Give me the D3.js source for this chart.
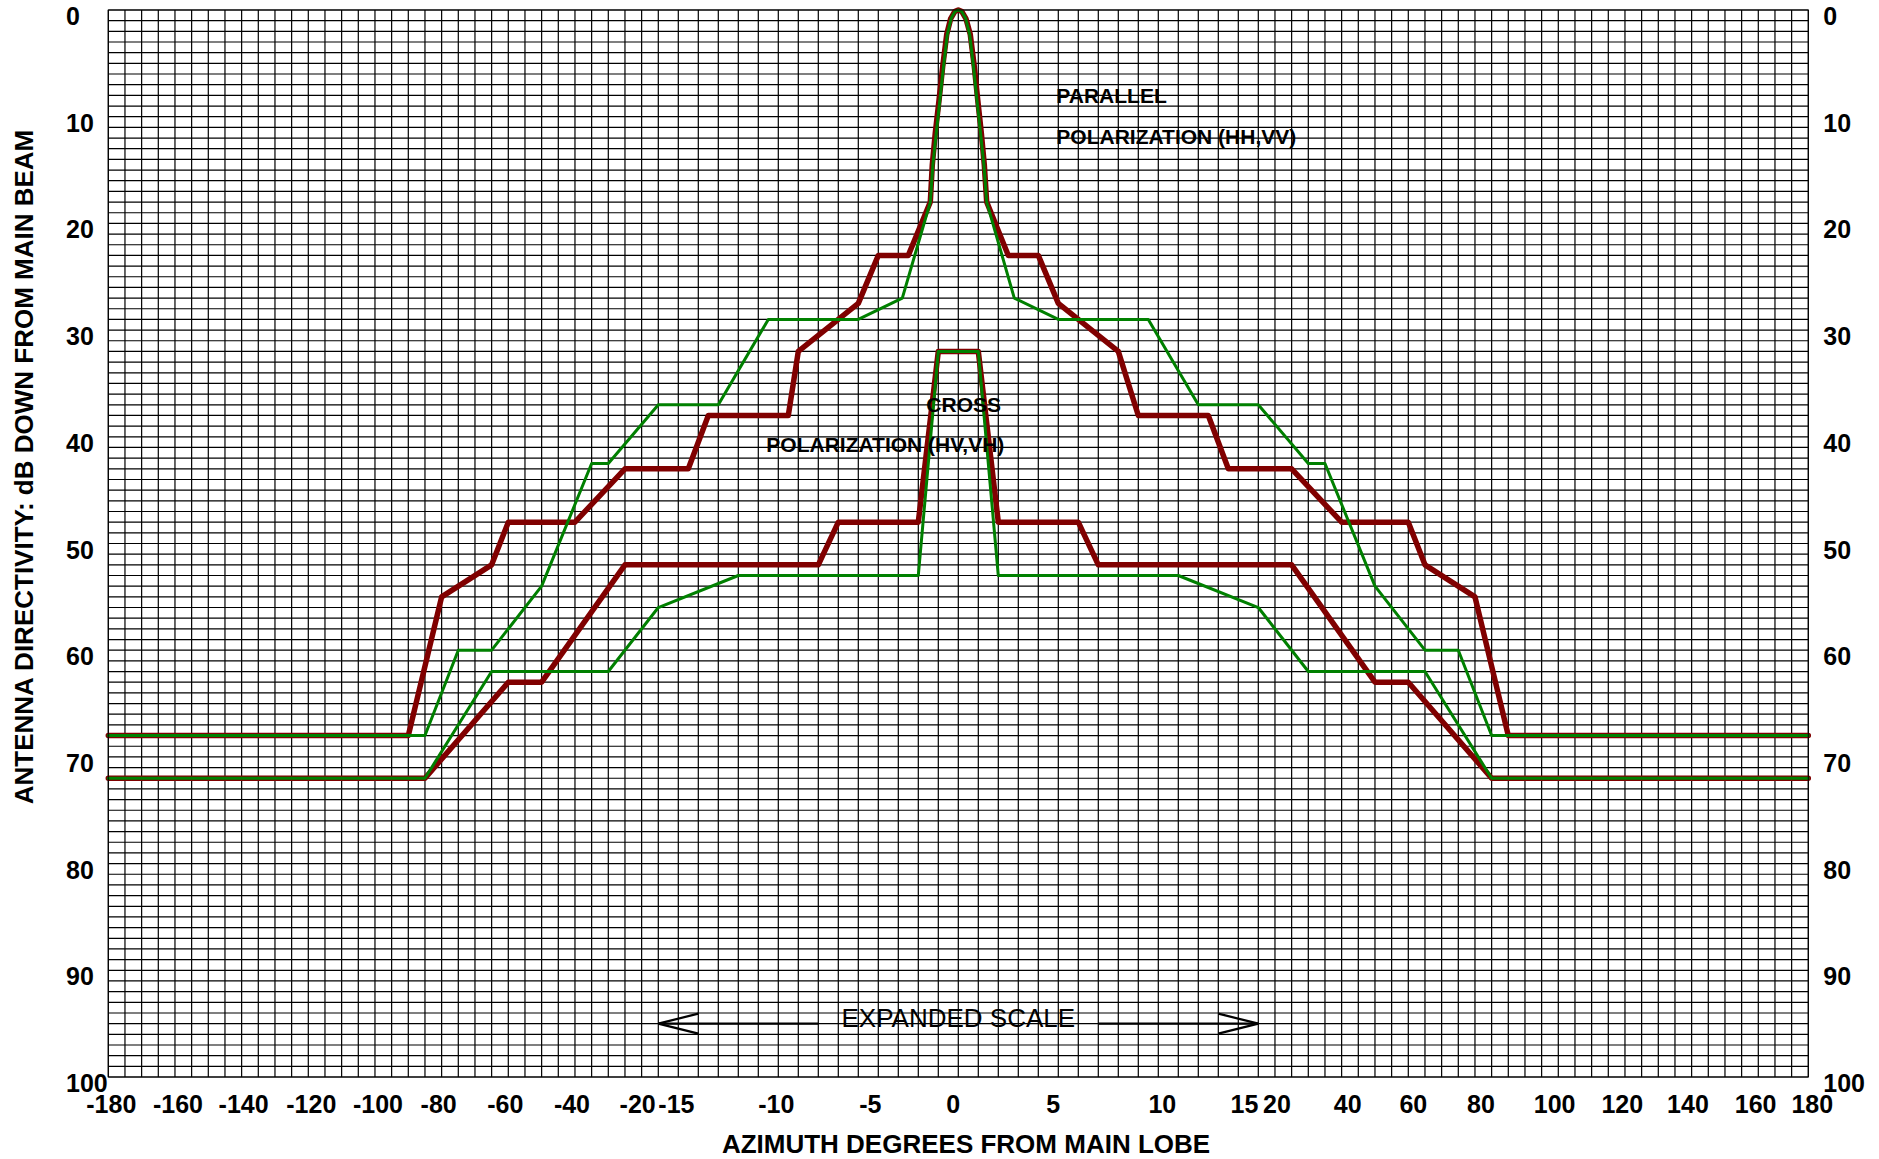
<!DOCTYPE html>
<html>
<head>
<meta charset="utf-8">
<script src="https://cdn.jsdelivr.net/npm/d3@7"></script>
<style>
  body { margin: 0; background: #fff; }
  text { font-family: "Liberation Sans", Arial, sans-serif; fill: #000; }
  .tick { font-size: 25px; font-weight: bold; }
  .title { font-size: 26px; font-weight: bold; }
  .note { font-size: 21px; font-weight: bold; }
  .expand { font-size: 26px; }
  .grid line { stroke: #000; stroke-width: 1.2; }
  .curve { fill: none; stroke-linejoin: round; stroke-linecap: round; }
  .red { stroke: #800000; stroke-width: 5.5; }
  .green { stroke: #008000; stroke-width: 3; }
</style>
</head>
<body>
<div id="chart"></div>
<script>
var xTicks = [-180, -160, -140, -120, -100, -80, -60, -40, -20, -15, -10, -5, 0, 5, 10, 15, 20, 40, 60, 80, 100, 120, 140, 160, 180];
var yTicks = [0, 10, 20, 30, 40, 50, 60, 70, 80, 90, 100];

// [azimuth deg, dB down]
var parallelRed = [[-180, 68], [-90, 68], [-80, 55], [-65, 52], [-60, 48], [-40, 48], [-25, 43], [-13.5, 43], [-12.5, 38],
  [-8.5, 38], [-8, 32], [-5, 27.5], [-4, 23], [-2.5, 23], [-1.4, 18], [-1.3, 14.5], [-1.15, 11.5], [-0.96, 8.4],
  [-0.78, 5.3], [-0.58, 2.3], [-0.38, 0.8], [-0.18, 0.15], [0, 0], [0.18, 0.15], [0.38, 0.8], [0.6, 2.3], [0.8, 5.3],
  [0.97, 8.4], [1.15, 11.5], [1.3, 14.5], [1.42, 18], [2.5, 23], [4, 23], [5, 27.5], [8, 32], [9, 38], [12.5, 38],
  [13.5, 43], [25, 43], [40, 48], [60, 48], [65, 52], [80, 55], [90, 68], [180, 68]];

var parallelGreen = [[-180, 68], [-85, 68], [-75, 60], [-65, 60], [-50, 54], [-35, 42.5], [-30, 42.5], [-15, 37], [-12, 37],
  [-9.5, 29], [-5, 29], [-2.8, 27], [-1.4, 18], [-1.27, 14.5], [-1.1, 11.5], [-0.92, 8.4], [-0.74, 5.3], [-0.55, 2.3],
  [-0.36, 0.8], [-0.17, 0.15], [0, 0], [0.17, 0.15], [0.37, 0.8], [0.57, 2.3], [0.76, 5.3], [0.93, 8.4], [1.11, 11.5],
  [1.28, 14.5], [1.42, 18], [2.8, 27], [5, 29], [9.5, 29], [12, 37], [15, 37], [30, 42.5], [35, 42.5], [50, 54],
  [65, 60], [75, 60], [85, 68], [180, 68]];

var crossRed = [[-180, 72], [-85, 72], [-60, 63], [-50, 63], [-25, 52], [-7, 52], [-6, 48], [-2, 48], [-1, 32], [1, 32],
  [2, 48], [6, 48], [7, 52], [25, 52], [50, 63], [60, 63], [85, 72], [180, 72]];

var crossGreen = [[-180, 72], [-85, 72], [-65, 62], [-30, 62], [-15, 56], [-11, 53], [-2, 53], [-1, 32], [1, 32], [2, 53],
  [11, 53], [15, 56], [30, 62], [65, 62], [85, 72], [180, 72]];

// [text, azimuth, dB, class]
var notes = [["PARALLEL", 4.9, 8.7, "note"], ["POLARIZATION (HH,VV)", 4.9, 12.55, "note"],
  ["CROSS", -1.6, 37.7, "note"], ["POLARIZATION (HV,VH)", -9.6, 41.4, "note"]];

var margin = {top: 10, right: 70.7, bottom: 82, left: 108.3},
    W = 1879, H = 1159,
    width = W - margin.left - margin.right,
    height = H - margin.top - margin.bottom;

// 5 deg per column outside, 1 deg per (1.2 wide) column in the expanded middle
var x = d3.scaleLinear()
    .domain([-180, -15, 15, 180])
    .range([0, width * 33 / 102, width * 69 / 102, width]);

var y = d3.scaleLinear().domain([0, 100]).range([0, height]);

var svg = d3.select("#chart").append("svg")
    .attr("width", W)
    .attr("height", H);

svg.append("rect").attr("width", W).attr("height", H).attr("fill", "#fff");

var g = svg.append("g")
    .attr("transform", "translate(" + margin.left + "," + margin.top + ")");

var gridX = d3.range(-180, -15, 5).concat(d3.range(-15, 15, 1), d3.range(15, 180.1, 5));
var gridY = d3.range(0, 100.1, 1);

var grid = g.append("g").attr("class", "grid");
grid.selectAll(".gx").data(gridX).enter().append("line")
    .attr("x1", function(d) { return x(d); })
    .attr("x2", function(d) { return x(d); })
    .attr("y1", 0).attr("y2", height);
grid.selectAll(".gy").data(gridY).enter().append("line")
    .attr("x1", 0).attr("x2", width)
    .attr("y1", function(d) { return y(d); })
    .attr("y2", function(d) { return y(d); });

// hand placed label nudges, as on the original sheet
var nudge = {"-180": 3, "-160": 3, "-140": 2, "-120": 3, "-100": 3, "-80": -3, "-60": -3, "-40": -3, "-20": -4,
  "-10": 18, "-5": 12, "0": -5, "5": -5, "10": 4, "20": 2, "40": 6, "60": 5, "80": 6, "100": 13, "120": 14,
  "140": 13, "160": 14, "180": 4};

g.selectAll(".xlab").data(xTicks).enter().append("text")
    .attr("class", "tick")
    .attr("x", function(d) { return x(d) + (nudge[d] || 0); })
    .attr("y", height + 36)
    .attr("text-anchor", function(d) { return d === -15 ? "start" : d === 15 ? "end" : "middle"; })
    .text(function(d) { return d; });

g.selectAll(".ylabL").data(yTicks).enter().append("text")
    .attr("class", "tick")
    .attr("x", 66 - margin.left)
    .attr("y", function(d) { return y(d) + 15; })
    .text(function(d) { return d; });

g.selectAll(".ylabR").data(yTicks).enter().append("text")
    .attr("class", "tick")
    .attr("x", width + 15)
    .attr("y", function(d) { return y(d) + 15; })
    .text(function(d) { return d; });

svg.append("text")
    .attr("class", "title")
    .attr("text-anchor", "middle")
    .attr("x", 966)
    .attr("y", 1153)
    .text("AZIMUTH DEGREES FROM MAIN LOBE");

svg.append("text")
    .attr("class", "title")
    .attr("text-anchor", "middle")
    .attr("transform", "translate(33,467) rotate(-90)")
    .text("ANTENNA DIRECTIVITY: dB DOWN FROM MAIN BEAM");

var line = d3.line()
    .x(function(d) { return x(d[0]); })
    .y(function(d) { return y(d[1]); });

g.append("path").datum(parallelRed).attr("class", "curve red").attr("d", line);
g.append("path").datum(crossRed).attr("class", "curve red").attr("d", line);
g.append("path").datum(parallelGreen).attr("class", "curve green").attr("d", line);
g.append("path").datum(crossGreen).attr("class", "curve green").attr("d", line);

g.selectAll(".note").data(notes).enter().append("text")
    .attr("class", function(d) { return d[3]; })
    .attr("x", function(d) { return x(d[1]); })
    .attr("y", function(d) { return y(d[2]); })
    .text(function(d) { return d[0]; });

// expanded scale arrows
var ay = y(95);
var arrow = g.append("g").attr("fill", "none").attr("stroke", "#000").attr("stroke-width", 2.2);
arrow.append("line").attr("x1", x(-15)).attr("x2", x(-7)).attr("y1", ay).attr("y2", ay);
arrow.append("line").attr("x1", x(7)).attr("x2", x(15)).attr("y1", ay).attr("y2", ay);
arrow.append("polyline")
    .attr("points", [[x(-15) + 40, ay - 10], [x(-15), ay], [x(-15) + 40, ay + 10]].join(" "));
arrow.append("polyline")
    .attr("points", [[x(15) - 40, ay - 10], [x(15), ay], [x(15) - 40, ay + 10]].join(" "));

g.append("text")
    .attr("class", "expand")
    .attr("text-anchor", "middle")
    .attr("x", x(0))
    .attr("y", ay + 3)
    .text("EXPANDED SCALE");

g.append("rect")
    .attr("width", width).attr("height", height)
    .attr("fill", "none").attr("stroke", "#000").attr("stroke-width", 1);
</script>
</body>
</html>
